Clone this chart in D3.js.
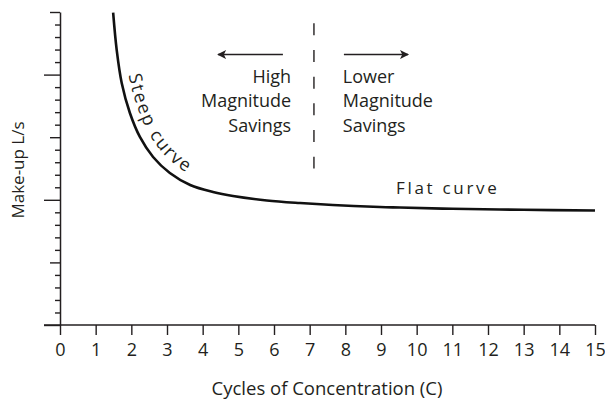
<!DOCTYPE html>
<html><head><meta charset="utf-8">
<script src="https://cdn.jsdelivr.net/npm/d3@7"></script>
<style>body{margin:0;background:#fff}text{font-family:"Open Sans",sans-serif;fill:#231f20}</style>
</head><body><svg id="c" width="605" height="403"></svg>
<script>
const cycles = [1.49,1.59,1.73,1.96,2.24,2.61,3.08,3.65,4.29,4.85,5.8,6.73,7.65,8.97,9.53,11,13,15];
const makeup = [24.95,21.96,19.33,16.93,15.02,13.42,12.14,11.18,10.62,10.3,9.95,9.74,9.58,9.42,9.38,9.28,9.2,9.15];
const xTicks = [0,1,2,3,4,5,6,7,8,9,10,11,12,13,14,15];
const yTicks = d3.range(0,26,1);
const divider = {x:7.12, y0:24.1, y1:12.5};
const leftArrow = {from:6.25, to:4.43, y:21.6};
const rightArrow = {from:7.96, to:9.76, y:21.6};
const leftLabel = ["High","Magnitude","Savings"];
const rightLabel = ["Lower","Magnitude","Savings"];
const labelX = {left:6.48, right:7.93};
const labelY = [19.33,17.4,15.4];

const svg = d3.select("#c");
const x = d3.scaleLinear().domain([0,15]).range([60,595]);
const y = d3.scaleLinear().domain([0,25]).range([325,12]);
const ink = "#231f20";

svg.append("defs").append("marker").attr("id","ah").attr("viewBox","0 0 10 10")
  .attr("refX",9).attr("refY",5).attr("markerWidth",13).attr("markerHeight",9)
  .attr("markerUnits","userSpaceOnUse").attr("orient","auto")
  .append("path").attr("d","M0,0 L10,5 L0,10 L2.5,5 Z").attr("fill",ink);

// x axis
const xa = svg.append("g").attr("transform","translate(0,325)")
  .call(d3.axisBottom(x).tickValues(xTicks).tickSize(10).tickSizeOuter(0).tickPadding(8));
xa.select(".domain").attr("stroke",ink).attr("stroke-width",1.5).attr("d","M44,0H595");
xa.selectAll(".tick line").attr("stroke",ink).attr("stroke-width",1.4);
xa.selectAll(".tick text").attr("font-size",18).attr("font-family","Open Sans").attr("fill",ink).attr("dy","0.72em");

// y axis
const ya = svg.append("g").attr("transform","translate(60,0)")
  .call(d3.axisLeft(y).tickValues(yTicks).tickSize(5).tickSizeOuter(0).tickFormat(""));
ya.select(".domain").attr("stroke",ink).attr("stroke-width",1.5);
ya.selectAll(".tick line").attr("stroke",ink).attr("stroke-width",1.4)
  .attr("x2",d => d%10===0 ? -16 : (d%5===0 ? -10 : -5));

// curve
const line = d3.line().x((d,i)=>x(cycles[i])).y(d=>y(d)).curve(d3.curveCatmullRom.alpha(0.5));
svg.append("path").attr("d",line(makeup)).attr("fill","none").attr("stroke","#111").attr("stroke-width",2.6);
svg.append("path").attr("id","offp").attr("d",line(makeup)).attr("fill","none").attr("stroke","none")
  .attr("transform","translate(7,-7)");
svg.append("text").attr("font-size",18).attr("letter-spacing",1.8)
  .append("textPath").attr("href","#offp").attr("startOffset",70).text("Steep curve");

svg.append("text").attr("x",x(9.42)).attr("y",y(10.45)).attr("font-size",17).attr("letter-spacing",2.7).text("Flat curve");

// divider
svg.append("line").attr("x1",x(divider.x)).attr("x2",x(divider.x)).attr("y1",y(divider.y0)).attr("y2",y(divider.y1))
  .attr("stroke",ink).attr("stroke-width",1.4).attr("stroke-dasharray","12,14.7");

// arrows
[leftArrow,rightArrow].forEach(a=>{
  svg.append("line").attr("x1",x(a.from)).attr("x2",x(a.to)).attr("y1",y(a.y)).attr("y2",y(a.y))
    .attr("stroke",ink).attr("stroke-width",1.4).attr("marker-end","url(#ah)");
});
leftLabel.forEach((t,i)=>svg.append("text").attr("x",x(labelX.left)).attr("y",y(labelY[i])).attr("text-anchor","end").attr("font-size",18).text(t));
rightLabel.forEach((t,i)=>svg.append("text").attr("x",x(labelX.right)).attr("y",y(labelY[i])).attr("font-size",18).text(t));

// axis titles
svg.append("text").attr("x",327).attr("y",395).attr("text-anchor","middle").attr("font-size",18.5).text("Cycles of Concentration (C)");
svg.append("text").attr("transform","translate(24,170) rotate(-90)").attr("text-anchor","middle").attr("font-size",17).text("Make-up L/s");
</script></body></html>
